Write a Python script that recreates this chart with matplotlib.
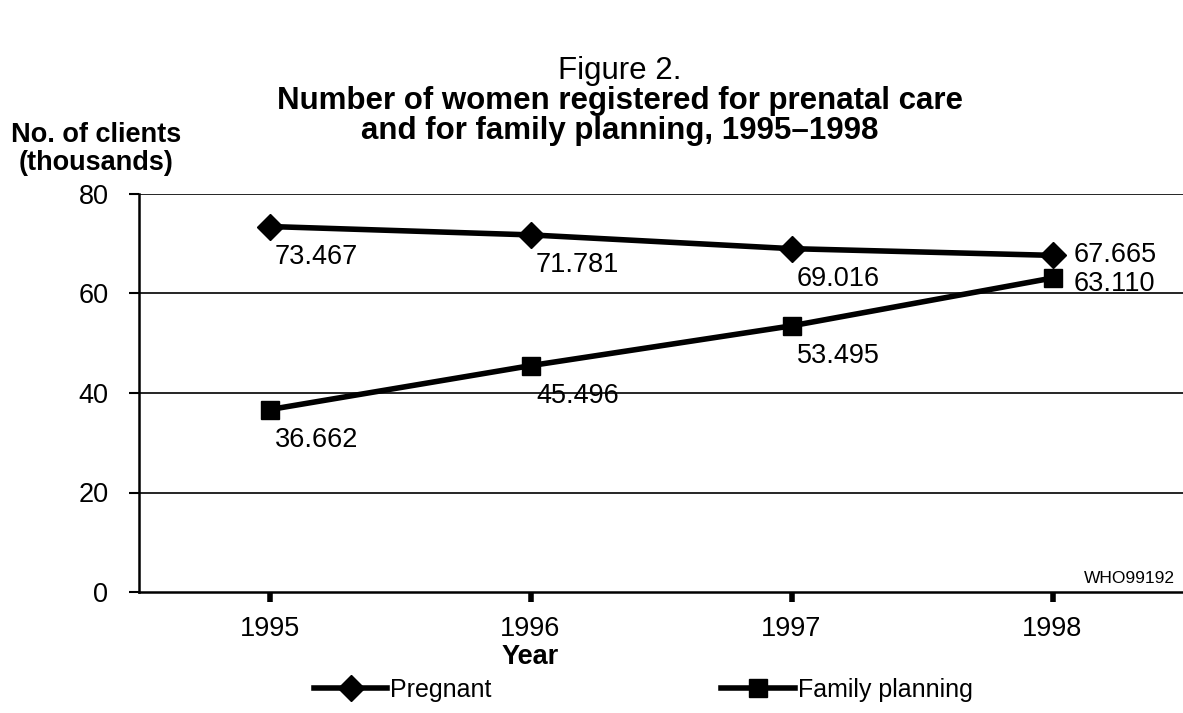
import numpy as np
import matplotlib.pyplot as plt
from matplotlib.lines import Line2D

plt.rcParams['font.family'] = ['Liberation Sans', 'DejaVu Sans']

years = ['1995', '1996', '1997', '1998']
pregnant = [73.467, 71.781, 69.016, 67.665]
family_planning = [36.662, 45.496, 53.495, 63.110]
yticks = [0, 20, 40, 60, 80]

FS = 19.5

fig = plt.figure(figsize=(11.83, 7.13), dpi=100)
ax = fig.add_axes([139 / 1183, 1 - 592 / 713, (1183 - 139) / 1183, (592 - 194) / 713])

x = np.arange(len(years))
ax.plot(x, pregnant, color='black', lw=4, marker='D', markersize=13, zorder=3)
ax.plot(x, family_planning, color='black', lw=4, marker='s', markersize=13, zorder=3)

# value labels
for i, v in enumerate(pregnant):
    if i == len(pregnant) - 1:
        ax.annotate(f'{v:.3f}', (x[i], v), xytext=(15, 0), textcoords='offset points',
                    fontsize=FS, va='center', ha='left')
    else:
        ax.annotate(f'{v:.3f}', (x[i], v), xytext=(4, -22), textcoords='offset points',
                    fontsize=FS, va='center', ha='left')
for i, v in enumerate(family_planning):
    if i == len(family_planning) - 1:
        ax.annotate(f'{v:.3f}', (x[i], v), xytext=(15, -4), textcoords='offset points',
                    fontsize=FS, va='center', ha='left')
    else:
        ax.annotate(f'{v:.3f}', (x[i], v), xytext=(4, -22), textcoords='offset points',
                    fontsize=FS, va='center', ha='left')

ax.set_xlim(-0.5, 3.5)
ax.set_ylim(0, 80)
ax.set_yticks(yticks)
ax.set_xticks(x)
ax.set_xticklabels(years)
for yv in yticks[1:]:
    ax.axhline(yv, color='black', lw=1.2, zorder=1)

for s in ['top', 'right']:
    ax.spines[s].set_visible(False)
ax.spines['left'].set_linewidth(1.8)
ax.spines['bottom'].set_linewidth(1.8)
ax.tick_params(axis='y', length=7, width=1.5, labelsize=FS, pad=15)
ax.tick_params(axis='x', length=7, width=4, labelsize=FS, pad=10)

# "Year" sits under the 1996 tick in the original
fig.text(530 / 1183, 1 - 657 / 713, 'Year', fontsize=FS, fontweight='bold',
         ha='center', va='center')
ax.text(0.992, 0.035, 'WHO99192', transform=ax.transAxes, fontsize=12.5, ha='right', va='center')

fig.text(96 / 1183, 1 - 149 / 713, 'No. of clients\n(thousands)', fontsize=FS,
         fontweight='bold', ha='center', va='center', linespacing=1.05)
fig.text(620 / 1183, 1 - 71 / 713, 'Figure 2.', fontsize=22.5, ha='center', va='center')
fig.text(620 / 1183, 1 - 116 / 713,
         'Number of women registered for prenatal care\nand for family planning, 1995\u20131998',
         fontsize=22.5, fontweight='bold', ha='center', va='center', linespacing=1.0)

handles = [Line2D([], [], color='black', lw=4, marker='D', markersize=13),
           Line2D([], [], color='black', lw=4, marker='s', markersize=13)]
fig.legend(handles, ['Pregnant', 'Family planning'], loc='center', ncol=2,
           bbox_to_anchor=(643 / 1183, 1 - 690 / 713), frameon=False, fontsize=18,
           handlelength=2.95, handletextpad=0.1, columnspacing=9.2)

fig.savefig('out.png', dpi=100)
